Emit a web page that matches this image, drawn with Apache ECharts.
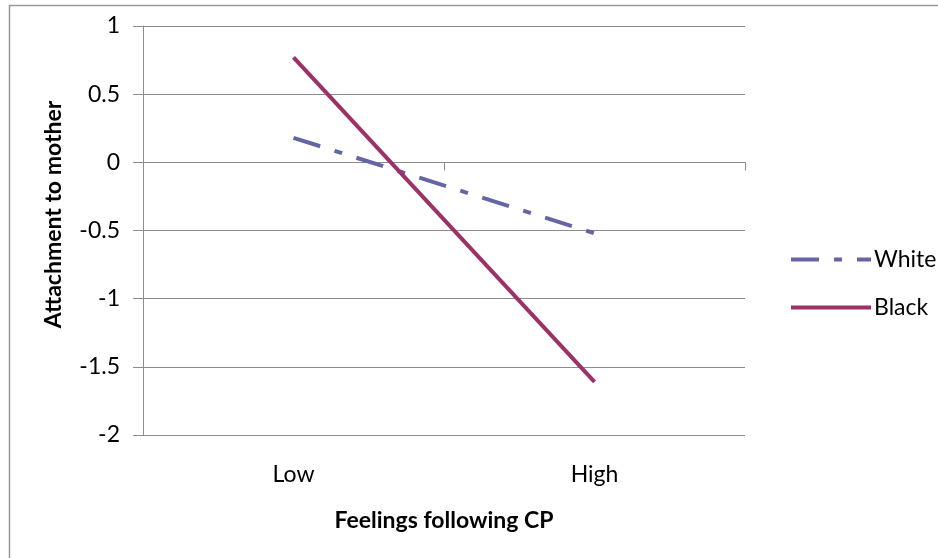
<!DOCTYPE html>
<html>
<head>
<meta charset="utf-8">
<script src="https://cdn.jsdelivr.net/npm/echarts@6/dist/echarts.min.js"></script>
<style>
html,body{margin:0;padding:0;background:#fff;}
#chart{width:938px;height:558px;}
</style>
</head>
<body>
<div id="chart"></div>
<script>
const categories = ['Low', 'High'];
const whiteValues = [0.18, -0.52];
const blackValues = [0.77, -1.61];
const seriesNames = ['White', 'Black'];
const yTicks = { min: -2, max: 1, interval: 0.5 };

const FONT = 'Lato, sans-serif';
const FS = 23;
const GRAY = '#8c8c8c';
const chart = echarts.init(document.getElementById('chart'));
chart.setOption({
  animation: false,
  backgroundColor: '#fff',
  textStyle: { fontFamily: FONT, fontSize: FS, color: '#000' },
  graphic: [{
    type: 'rect',
    shape: { x: 9.5, y: 5.5, width: 1200, height: 1200 },
    style: { fill: 'none', stroke: '#999', lineWidth: 1.5 },
    silent: true
  }],
  grid: { left: 143, right: 193, top: 26, bottom: 123, containLabel: false },
  legend: {
    orient: 'vertical',
    left: 784,
    top: 243,
    itemWidth: 80,
    itemHeight: 14,
    itemGap: 25,
    data: seriesNames,
    itemStyle: { opacity: 0 },
    lineStyle: { width: 4 },
    textStyle: { fontFamily: FONT, fontSize: FS, color: '#000', padding: [0, 0, 0, -2] }
  },
  xAxis: [{
    type: 'category',
    data: categories,
    boundaryGap: true,
    axisLine: { show: false, onZero: false },
    axisTick: { show: false },
    axisLabel: { fontFamily: FONT, fontSize: FS, color: '#000', margin: 28 },
    name: 'Feelings following CP',
    nameLocation: 'middle',
    nameGap: 74,
    nameTextStyle: { fontFamily: FONT, fontSize: FS, fontWeight: 'bold', color: '#000' }
  }, {
    type: 'category',
    data: categories,
    boundaryGap: true,
    position: 'bottom',
    axisLine: { show: true, onZero: true, onZeroAxisIndex: 0, lineStyle: { color: GRAY, width: 1 } },
    axisTick: { show: true, length: 8, lineStyle: { color: GRAY } },
    axisLabel: { show: false }
  }],
  yAxis: {
    type: 'value',
    min: yTicks.min,
    max: yTicks.max,
    interval: yTicks.interval,
    axisLine: { show: true, lineStyle: { color: GRAY, width: 1 } },
    axisTick: { show: true, length: 10, lineStyle: { color: GRAY } },
    splitLine: { show: true, lineStyle: { color: GRAY, width: 1 } },
    axisLabel: { fontFamily: FONT, fontSize: FS, color: '#000', margin: 23 },
    name: 'Attachment to mother',
    nameLocation: 'middle',
    nameGap: 78,
    nameTextStyle: { fontFamily: FONT, fontSize: FS, fontWeight: 'bold', color: '#000', padding: [0, 0, 0, 32] }
  },
  series: [{
    name: seriesNames[0],
    type: 'line',
    xAxisIndex: 0,
    data: whiteValues,
    symbol: 'none',
    color: '#6565a6',
    lineStyle: { color: '#6565a6', width: 4, type: [28, 15, 8, 15], cap: 'butt' }
  }, {
    name: seriesNames[1],
    type: 'line',
    xAxisIndex: 0,
    data: blackValues,
    symbol: 'none',
    color: '#9c3166',
    lineStyle: { color: '#9c3166', width: 4, type: 'solid' }
  }]
});
</script>
</body>
</html>
